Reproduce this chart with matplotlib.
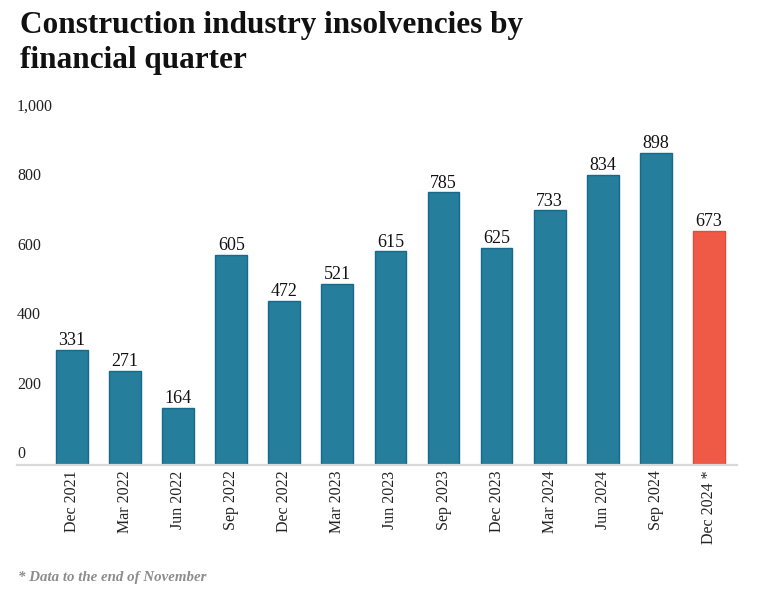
import matplotlib.pyplot as plt

quarters = ['Dec 2021', 'Mar 2022', 'Jun 2022', 'Sep 2022', 'Dec 2022', 'Mar 2023',
            'Jun 2023', 'Sep 2023', 'Dec 2023', 'Mar 2024', 'Jun 2024', 'Sep 2024',
            'Dec 2024 *']
insolvencies = [331, 271, 164, 605, 472, 521, 615, 785, 625, 733, 834, 898, 673]
y_ticks = [0, 200, 400, 600, 800, 1000]

plt.rcParams['font.family'] = ['Liberation Serif', 'DejaVu Serif']

teal, teal_edge = '#247e9c', '#18698a'
red, red_edge = '#ee5a45', '#e8493a'

fig = plt.figure(figsize=(7.62, 5.93), dpi=100)
ax = fig.add_axes([17 / 762, 1 - 465 / 593, 720 / 762, 347.5 / 593])

x = list(range(len(quarters)))
colors = [teal] * (len(quarters) - 1) + [red]
edges = [teal_edge] * (len(quarters) - 1) + [red_edge]
bars = ax.bar(x, insolvencies, width=0.6, color=colors, edgecolor=edges, linewidth=1)

for xi, v in zip(x, insolvencies):
    ax.annotate(str(v), (xi, v), xytext=(0, 0.5), textcoords='offset points',
                ha='center', va='bottom', fontsize=13, color='#111111')

ax.set_xlim(-1.036, 12.53)
ax.set_ylim(0, 1000)

# y labels sit just above their (hidden) gridlines, flush left
for t in y_ticks:
    ax.annotate(f'{t:,}', (-1.036, t), xytext=(0, 2), textcoords='offset points',
                ha='left', va='bottom', fontsize=11.5, color='#222222')
ax.set_yticks([])

ax.set_xticks(x)
ax.set_xticklabels(quarters, rotation=90, fontsize=11.5, color='#222222')
ax.tick_params(axis='x', length=0, pad=4)

for s in ['top', 'right', 'left']:
    ax.spines[s].set_visible(False)
ax.spines['bottom'].set_color('#d9d9d9')
ax.spines['bottom'].set_linewidth(1.6)

fig.text(20 / 762, 1 - 43 / 593, 'Construction industry insolvencies by\nfinancial quarter',
         fontsize=22.5, fontweight='bold', ha='left', va='center', linespacing=1.3,
         color='#111111')
fig.text(18 / 762, 1 - 577 / 593, '* Data to the end of November', fontsize=10.7,
         fontweight='bold', fontstyle='italic', color='#8c8c8c', ha='left', va='center')

fig.savefig('out.png', dpi=100)
